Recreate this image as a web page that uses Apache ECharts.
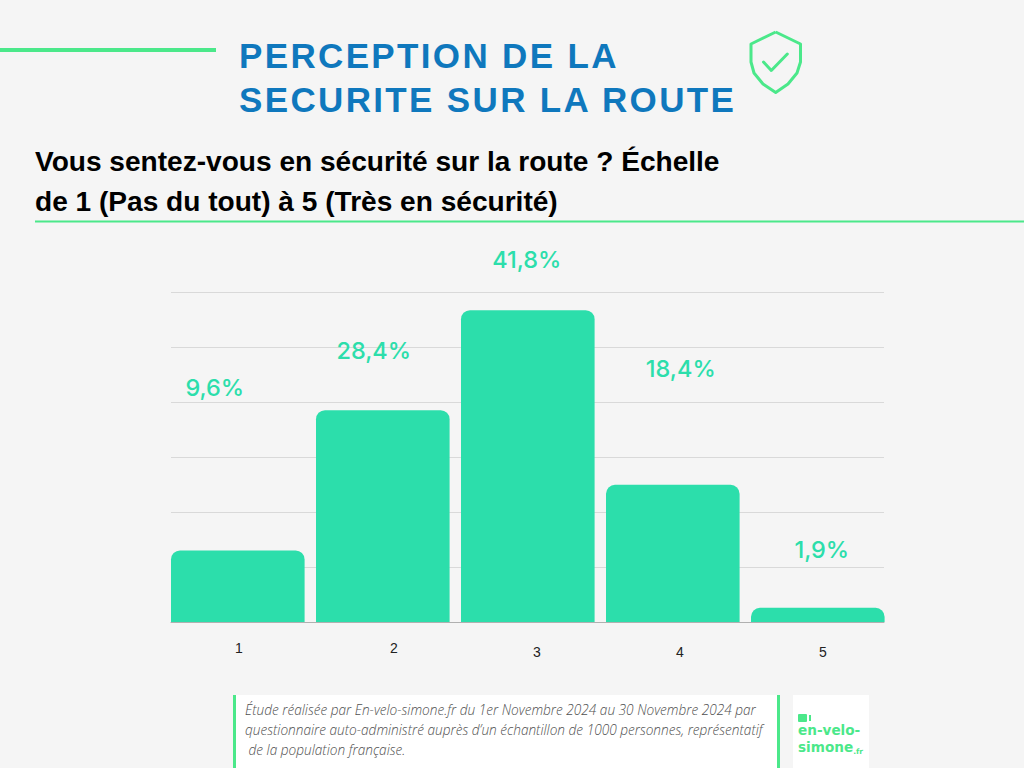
<!DOCTYPE html>
<html>
<head>
<meta charset="utf-8">
<style>
html,body{margin:0;padding:0;background:#f5f5f5}
#c{width:1024px;height:768px}
#c text[style*="35px"]{letter-spacing:2.35px}
</style>
<script src="https://cdn.jsdelivr.net/npm/echarts@6/dist/echarts.min.js"></script>
</head>
<body>
<div id="c"></div>
<script>
const categories = ['1', '2', '3', '4', '5'];
const percentages = [9.6, 28.4, 41.8, 18.4, 1.9];
const valueLabels = ['9,6%', '28,4%', '41,8%', '18,4%', '1,9%'];
const heading = 'PERCEPTION DE LA\nSECURITE SUR LA ROUTE';
const question = 'Vous sentez-vous en sécurité sur la route ? Échelle\nde 1 (Pas du tout) à 5 (Très en sécurité)';
const footnote = 'Étude réalisée par En-velo-simone.fr du 1er Novembre 2024 au 30 Novembre 2024 par\nquestionnaire auto-administré auprès d’un échantillon de 1000 personnes, représentatif\n de la population française.';

const green = '#4be88a', teal = '#2cdeab';
const labelShift = [[-23, -151], [-9, -48], [-1, -39], [8, -104], [4, -46]];
const tickShift = [[1, 0], [11, 0], [9, 2], [7, 2], [5, 2]];
const axisMax = 44.24;

const tickRich = {};
tickShift.forEach((s, i) => {
  tickRich['t' + i] = {
    fontFamily: 'Liberation Sans', fontSize: 14, color: '#222',
    padding: [s[1] * 2, 0, 0, s[0] * 2]
  };
});

const chart = echarts.init(document.getElementById('c'), null, {renderer: 'svg', width: 1024, height: 768});
chart.setOption({
  backgroundColor: '#f5f5f5',
  animation: false,
  title: [
    {text: heading, left: 239, top: 33, textStyle: {fontFamily: 'Liberation Sans', fontWeight: 'bold', fontSize: 35, lineHeight: 44, color: '#0f78bd'}, padding: 0},
    {text: question, left: 35, top: 141, textStyle: {fontFamily: 'Liberation Sans', fontWeight: 'bold', fontSize: 28.08, lineHeight: 40, color: '#000'}, padding: 0}
  ],
  grid: [
    {left: 165.3, width: 725, top: 292, height: 330},
    {left: 171, width: 713, top: 292, height: 330}
  ],
  xAxis: [
    {type: 'category', gridIndex: 0, data: categories,
     axisLine: {show: false}, axisTick: {show: false},
     axisLabel: {margin: 19, interval: 0, rich: tickRich,
       formatter: (v, i) => '{t' + i + '|' + v + '}'}},
    {type: 'value', gridIndex: 1, min: 0, max: 1, show: true,
     axisLine: {show: true, onZero: false, lineStyle: {color: '#b0b0b0', width: 1}},
     axisTick: {show: false}, axisLabel: {show: false}, splitLine: {show: false}}
  ],
  yAxis: [
    {type: 'value', gridIndex: 0, min: 0, max: axisMax, show: false, splitLine: {show: false}},
    {type: 'value', gridIndex: 1, min: 0, max: axisMax, interval: axisMax / 6,
     axisLine: {show: false}, axisTick: {show: false}, axisLabel: {show: false},
     splitLine: {show: true, lineStyle: {color: '#d9d9d9', width: 1}}}
  ],
  series: [{
    type: 'bar', xAxisIndex: 0, yAxisIndex: 0, z: 5, barWidth: 133.6,
    data: percentages.map((v, i) => ({
      value: v,
      label: {offset: labelShift[i], formatter: valueLabels[i]}
    })),
    itemStyle: {color: teal, borderRadius: [9, 9, 0, 0]},
    label: {show: true, position: 'top', distance: 0, fontFamily: 'Inter', fontWeight: 500, fontSize: 23.5, color: teal}
  }],
  graphic: [
    {type: 'rect', shape: {x: 0, y: 48, width: 216, height: 4}, style: {fill: green}},
    {type: 'rect', shape: {x: 35, y: 220.5, width: 989, height: 2}, style: {fill: green}},
    {type: 'polyline', shape: {points: [[775.7, 32], [800.5, 44], [800.5, 62], [797, 73], [788, 84], [775.7, 92.5], [763, 84], [754, 73], [751, 62], [751, 44], [775.7, 32]]}, style: {fill: 'none', stroke: green, lineWidth: 3, lineJoin: 'round'}},
    {type: 'polyline', shape: {points: [[763.5, 62], [771.3, 70.5], [787.3, 54]]}, style: {fill: 'none', stroke: green, lineWidth: 3, lineCap: 'round', lineJoin: 'round'}},
    {type: 'rect', shape: {x: 233, y: 695, width: 547, height: 73}, style: {fill: '#fff'}},
    {type: 'rect', shape: {x: 233, y: 695, width: 3, height: 73}, style: {fill: green}},
    {type: 'rect', shape: {x: 777, y: 695, width: 3, height: 73}, style: {fill: green}},
    {type: 'text', x: 245, y: 699.5, style: {text: footnote, fontFamily: 'Open Sans', fontStyle: 'italic', fontWeight: 300, fontSize: 13.63, lineHeight: 19.8, fill: '#505050'}},
    {type: 'rect', shape: {x: 793, y: 695, width: 76, height: 73}, style: {fill: '#fff'}},
    {type: 'rect', shape: {x: 798, y: 714, width: 9, height: 8, r: 1}, style: {fill: green}},
    {type: 'rect', shape: {x: 809, y: 715, width: 2, height: 6}, style: {fill: green}},
    {type: 'text', x: 798, y: 722, style: {
      text: '{m|en-velo-}\n{m|simone}{s|.fr}',
      rich: {
        m: {fontFamily: 'DejaVu Sans', fontWeight: 'bold', fontSize: 13.6, lineHeight: 16.5, fill: green, color: green},
        s: {fontFamily: 'DejaVu Sans', fontWeight: 'bold', fontSize: 7.5, lineHeight: 16.5, fill: green, color: green, verticalAlign: 'bottom'}
      }
    }}
  ]
});
</script>
</body>
</html>
